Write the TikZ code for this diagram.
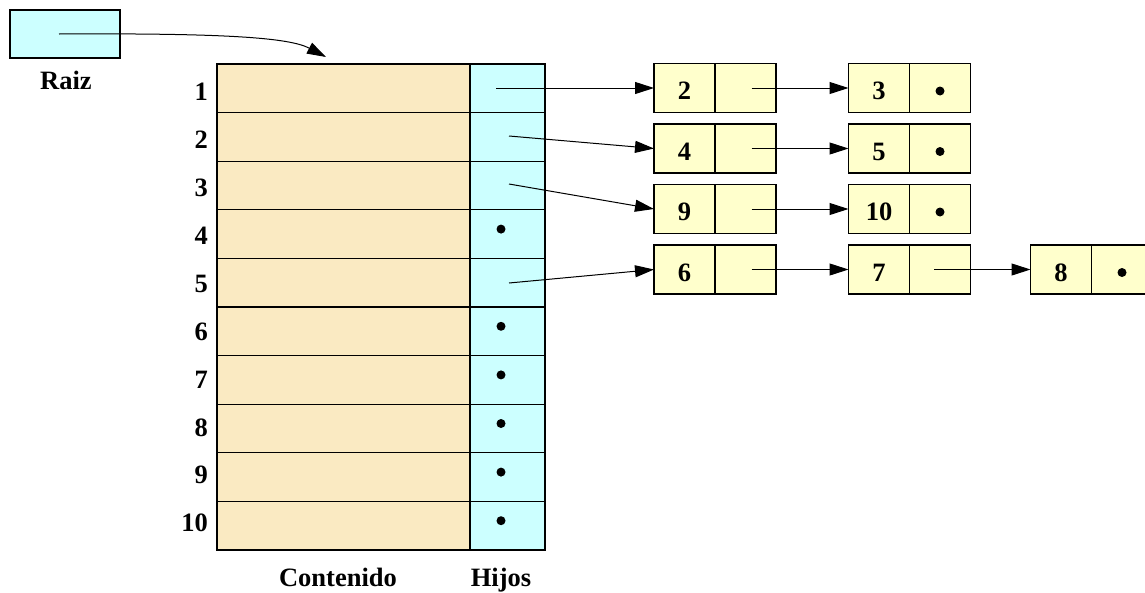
\documentclass[tikz,border=0pt]{standalone}
\usepackage{fontspec}
\setmainfont{Liberation Serif}
\usetikzlibrary{arrows.meta}
\definecolor{beige}{RGB}{250,234,194}
\definecolor{cyanlt}{RGB}{204,255,255}
\definecolor{yel}{RGB}{255,255,204}
\newcommand\lnode[4]{%
  \node[lcell] (#1v) at (#2,#3) {};
  \node[lcell, anchor=west] (#1p) at (#1v.east) {};
  \node[lbl] (#1t) at ({#2},{#3+3}) {#4};
}
\begin{document}
\begin{tikzpicture}[x=1pt,y=-1pt,
  lbl/.style={font=\fontsize{26.5}{30}\selectfont\bfseries, inner sep=0pt},
  cell/.style={draw, line width=1.3pt, inner sep=0pt, outer sep=0pt, minimum height=48.6pt},
  cont/.style={cell, fill=beige, minimum width=253pt},
  hij/.style={cell, fill=cyanlt, minimum width=75pt},
  lcell/.style={draw, line width=1.3pt, fill=yel, inner sep=0pt, outer sep=0pt, minimum width=61pt, minimum height=49pt},
  dotn/.style={circle, fill=black, inner sep=0pt, minimum size=9pt},
  ptr/.style={line width=1pt, -{Triangle[length=19pt,width=12pt]}}
]
\useasboundingbox (0,0) rectangle (1145,592);
\clip (0,0) rectangle (1145,592);
\fill[white] (0,0) rectangle (1145,592);
% Raiz
\node[draw, fill=cyanlt, line width=1.3pt, inner sep=0pt, minimum width=110pt, minimum height=48pt] (raiz) at (65,34) {};
\node[lbl, anchor=base] (raizl) at (66,89) {Raiz};
\coordinate (rs) at (59,34);
\coordinate (rt) at (326,57);
\draw[ptr] (rs) .. controls (230,33) and (290,38) .. (rt);
% table
\foreach \i in {1,...,10} {
  \node[cont] (c\i) at (343.5,{64+48.6*(\i-0.5)}) {};
  \node[hij] (h\i) at (507.5,{64+48.6*(\i-0.5)}) {};
  \node[lbl, anchor=base east] (r\i) at (208,{100.7+47.9*(\i-1)}) {\i};
}
\foreach \i in {4,6,7,8,9,10} {
  \node[dotn] (d\i) at (501,{64+48.6*(\i-0.5)-5}) {};
}
\node[lbl, anchor=base] (cont) at (338,586) {Contenido};
\node[lbl, anchor=base] (hijos) at (501,586) {Hijos};
% lists
\lnode{a2}{684.5}{88}{2}
\lnode{a3}{879}{88}{3}
\lnode{a4}{684.5}{148.5}{4}
\lnode{a5}{879}{148.5}{5}
\lnode{a9}{684.5}{209}{9}
\lnode{a10}{879}{209}{10}
\lnode{a6}{684.5}{269.5}{6}
\lnode{a7}{879}{269.5}{7}
\lnode{a8}{1061}{269.5}{8}
\node[dotn] (e3) at ([yshift=-3pt]a3p.center) {};
\node[dotn] (e5) at ([yshift=-3pt]a5p.center) {};
\node[dotn] (e10) at ([yshift=-3pt]a10p.center) {};
\node[dotn] (e8) at ([yshift=-3pt]a8p.center) {};
% pointers from table
\coordinate (s1) at (496,88);
\coordinate (s2) at (509,136);
\coordinate (s3) at (509,184);
\coordinate (s5) at (509,283);
\draw[ptr] (s1) -- (a2v.west);
\draw[ptr] (s2) -- (a4v.west);
\draw[ptr] (s3) -- (a9v.west);
\draw[ptr] (s5) -- (a6v.west);
% list links
\draw[ptr] ([xshift=6pt]a2p.center) -- (a3v.west);
\draw[ptr] ([xshift=6pt]a4p.center) -- (a5v.west);
\draw[ptr] ([xshift=6pt]a9p.center) -- (a10v.west);
\draw[ptr] ([xshift=6pt]a6p.center) -- (a7v.west);
\draw[ptr] ([xshift=-6pt]a7p.center) -- (a8v.west);
\end{tikzpicture}
\end{document}
